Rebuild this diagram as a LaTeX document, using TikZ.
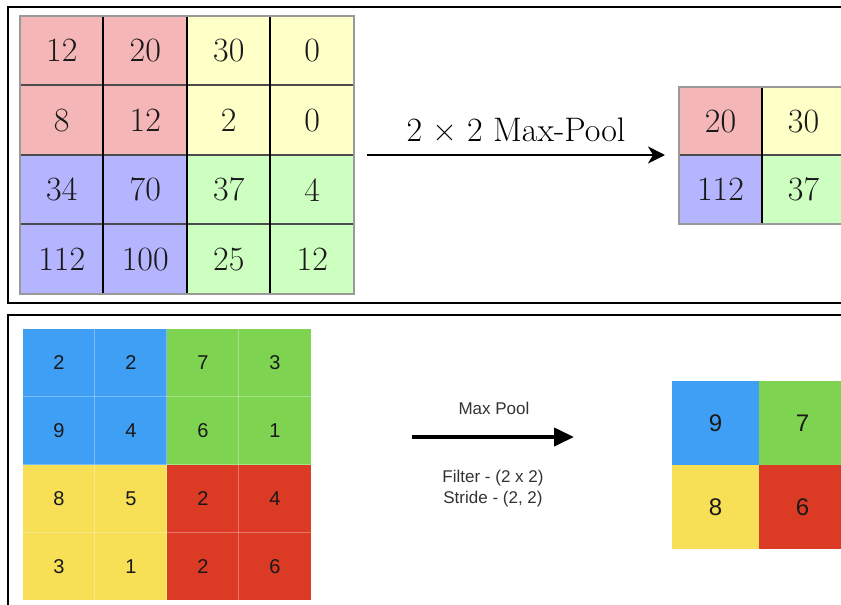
\documentclass[tikz,border=0pt]{standalone}
\usepackage{fontspec}
\setsansfont{Liberation Sans}
\usetikzlibrary{arrows.meta}
\definecolor{tred}{HTML}{F4B6B6}
\definecolor{tyel}{HTML}{FFFFC8}
\definecolor{tblu}{HTML}{B4B4FF}
\definecolor{tgrn}{HTML}{CCFFC0}
\definecolor{bblu}{HTML}{3E9FF5}
\definecolor{bgrn}{HTML}{7ED351}
\definecolor{byel}{HTML}{F7DF56}
\definecolor{bred}{HTML}{DB3A24}
\definecolor{labgray}{HTML}{333333}
\tikzset{
  topcell/.style={draw=none, inner sep=0pt, minimum width=83.5pt, minimum height=69.5pt,
    font=\fontsize{34}{40}\selectfont, text=black!90},
  topout/.style={draw=none, inner sep=0pt, minimum width=83pt, minimum height=68.5pt,
    font=\fontsize{34}{40}\selectfont, text=black!90},
  botcell/.style={draw=none, inner sep=0pt, minimum width=72pt, minimum height=67.75pt,
    font=\sffamily\fontsize{20}{24}\selectfont, text=black!90},
  botout/.style={draw=none, inner sep=0pt, minimum width=87pt, minimum height=84pt,
    font=\sffamily\fontsize{24}{28}\selectfont, text=black!90},
  panel/.style={draw=black, line width=2.5pt},
  vline/.style={draw=black, line width=2pt},
  hline/.style={draw=black!70, line width=2pt},
  outline/.style={draw=black!40, line width=1.5pt},
  faint/.style={draw=white, opacity=0.3, line width=1pt},
  toparrow/.style={line width=2.5pt, -{Stealth[length=17pt,width=17pt,inset=5pt]}},
  botarrow/.style={line width=4pt, -{Triangle[length=20pt,width=18pt]}},
  toplabel/.style={font=\fontsize{34}{40}\selectfont, anchor=base, inner sep=0pt},
  botlabel/.style={font=\sffamily\fontsize{17}{21}\selectfont, text=labgray, anchor=base, inner sep=0pt}
}
\begin{document}
\begin{tikzpicture}[x=1pt,y=-1pt]
\useasboundingbox (0,0) rectangle (841,605);
\clip (0,0) rectangle (841,605);
\fill[white] (0,0) rectangle (841,605);

% panels
\draw[panel] (8,7) rectangle (860,303);
\draw[panel] (8,315) rectangle (860,625);

% ---------- top input grid ----------
\foreach \r/\c/\v/\col in {
  0/0/12/tred, 0/1/20/tred, 0/2/30/tyel, 0/3/0/tyel,
  1/0/8/tred, 1/1/12/tred, 1/2/2/tyel, 1/3/0/tyel,
  2/0/34/tblu, 2/1/70/tblu, 2/2/37/tgrn, 2/3/4/tgrn,
  3/0/112/tblu, 3/1/100/tblu, 3/2/25/tgrn, 3/3/12/tgrn} {
  \node[topcell, fill=\col] (a-\r-\c) at ({20+83.5*(\c+0.5)},{16+69.5*(\r+0.5)}) {\v};
}
\foreach \r in {1,2,3} \draw[hline] (a-\r-0.north west) -- (a-\r-3.north east);
\foreach \c in {1,2,3} \draw[vline] (a-0-\c.north west) -- (a-3-\c.south west);
\draw[outline] (a-0-0.north west) rectangle (a-3-3.south east);

% top arrow
\coordinate (ta1) at (367,155);
\coordinate (ta2) at (665,155);
\draw[toparrow] (ta1) -- (ta2);
\node[toplabel] (tl) at (516,141) {2 × 2 Max-Pool};

% ---------- top output grid ----------
\foreach \r/\c/\v/\col in {0/0/20/tred, 0/1/30/tyel, 1/0/112/tblu, 1/1/37/tgrn} {
  \node[topout, fill=\col] (o-\r-\c) at ({679+83*(\c+0.5)},{87+68.5*(\r+0.5)}) {\v};
}
\draw[hline] (o-1-0.north west) -- (o-1-1.north east);
\draw[vline] (o-0-1.north west) -- (o-1-1.south west);
\draw[outline] (o-0-0.north west) rectangle (o-1-1.south east);

% ---------- bottom input grid ----------
\foreach \r/\c/\v/\col in {
  0/0/2/bblu, 0/1/2/bblu, 0/2/7/bgrn, 0/3/3/bgrn,
  1/0/9/bblu, 1/1/4/bblu, 1/2/6/bgrn, 1/3/1/bgrn,
  2/0/8/byel, 2/1/5/byel, 2/2/2/bred, 2/3/4/bred,
  3/0/3/byel, 3/1/1/byel, 3/2/2/bred, 3/3/6/bred} {
  \node[botcell, fill=\col] (b-\r-\c) at ({23+72*(\c+0.5)},{329+67.75*(\r+0.5)}) {\v};
}
\foreach \r in {1,2,3} \draw[faint] (b-\r-0.north west) -- (b-\r-3.north east);
\foreach \c in {1,2,3} \draw[faint] (b-0-\c.north west) -- (b-3-\c.south west);

% bottom arrow
\coordinate (ba1) at (412,437);
\coordinate (ba2) at (574,437);
\draw[botarrow] (ba1) -- (ba2);
\node[botlabel] (bl1) at (494,414) {Max Pool};
\node[botlabel] (bl2) at (493,482) {Filter - (2 x 2)};
\node[botlabel] (bl3) at (493,503) {Stride - (2, 2)};

% ---------- bottom output grid ----------
\foreach \r/\c/\v/\col in {0/0/9/bblu, 0/1/7/bgrn, 1/0/8/byel, 1/1/6/bred} {
  \node[botout, fill=\col] (p-\r-\c) at ({672+87*(\c+0.5)},{381+84*(\r+0.5)}) {\v};
}
\end{tikzpicture}
\end{document}
